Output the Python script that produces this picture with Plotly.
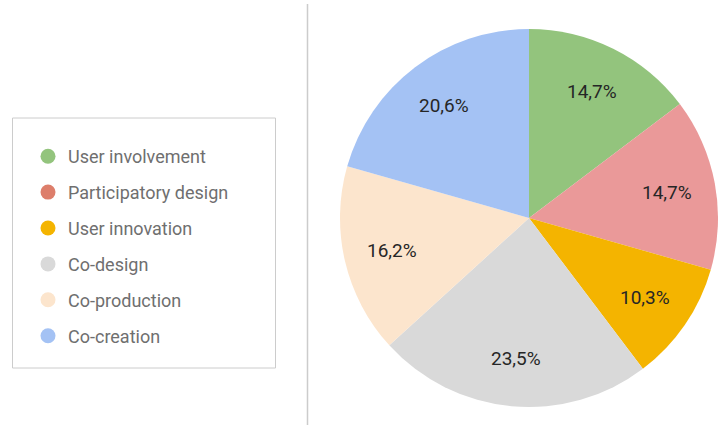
import math
import plotly.graph_objects as go

categories = ["User involvement", "Participatory design", "User innovation",
              "Co-design", "Co-production", "Co-creation"]
counts = [10, 10, 7, 16, 11, 14]
slice_colors = ["#93c47d", "#ea9999", "#f4b400", "#d9d9d9", "#fce5cd", "#a4c2f4"]
legend_colors = ["#93c47d", "#dd7e6b", "#f4b400", "#d9d9d9", "#fce5cd", "#a4c2f4"]

W, H = 718, 425
CX, CY, R = 529, 218, 189  # pie centre / radius in pixels
fig = go.Figure()

fig.add_trace(go.Pie(
    labels=categories, values=counts, sort=False, direction="clockwise", rotation=0,
    marker=dict(colors=slice_colors, line=dict(width=0)),
    textinfo="none",
    domain=dict(x=[(CX - R) / W, (CX + R) / W], y=[(H - CY - R) / H, (H - CY + R) / H]),
    showlegend=False, hoverinfo="label+percent",
))

# percentage labels placed at a fixed fraction of the radius, at each slice's mid-angle
total = sum(counts)
annotations = []
cum = 0
for v in counts:
    theta = 2 * math.pi * (cum + v / 2) / total
    cum += v
    rr = 0.745 * R
    px = CX + rr * math.sin(theta)
    py = CY - rr * math.cos(theta)
    pct = f"{100 * v / total:.1f}%".replace(".", ",")
    annotations.append(dict(x=px / W, y=1 - py / H, xref="paper", yref="paper",
                            text=pct, showarrow=False,
                            font=dict(family="Roboto", size=19, color="#262626"),
                            xanchor="center", yanchor="middle"))

for i, (c, col) in enumerate(zip(categories, legend_colors)):
    fig.add_trace(go.Scatter(
        x=[None], y=[None], mode="markers", name=c, legendgroup=f"g{i}",
        marker=dict(color=col, size=15, symbol="circle"),
    ))

fig.update_layout(
    width=W, height=H, margin=dict(l=0, r=0, t=0, b=0),
    paper_bgcolor="white", plot_bgcolor="white",
    separators=",.",
    xaxis=dict(visible=False, domain=[0, 0.01]), yaxis=dict(visible=False, domain=[0, 0.01]),
    legend=dict(x=28 / W, y=1 - 138 / H, xanchor="left", yanchor="top",
                font=dict(family="Roboto", size=18, color="#6f6f6f"),
                tracegroupgap=9.5, bgcolor="rgba(0,0,0,0)", itemclick=False),
    annotations=annotations,
    shapes=[
        dict(type="rect", xref="paper", yref="paper", x0=12.5 / W, x1=275.5 / W,
             y0=1 - 368 / H, y1=1 - 118 / H, line=dict(color="#cccccc", width=1),
             fillcolor="rgba(0,0,0,0)", layer="below"),
        dict(type="line", xref="paper", yref="paper", x0=307.5 / W, x1=307.5 / W,
             y0=0, y1=1 - 4 / H, line=dict(color="#cccccc", width=1.5)),
    ],
)

fig.write_html("out.html")
